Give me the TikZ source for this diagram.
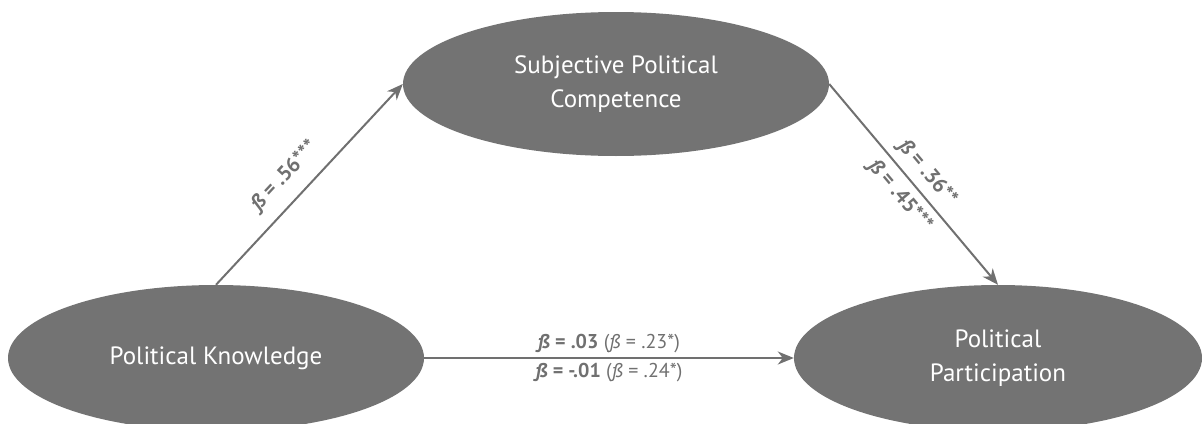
\documentclass[tikz,border=0pt]{standalone}
\usepackage{fontspec}
\setmainfont{PT Sans}
\usetikzlibrary{shapes.geometric,arrows.meta}
\definecolor{nodegrey}{HTML}{737373}
\definecolor{linegrey}{HTML}{707070}
\tikzset{
	construct/.style={ellipse, fill=nodegrey, text=white, inner sep=0pt, align=center, font=\fontsize{25}{34}\selectfont},
	effect/.style={draw=linegrey, line width=2pt, -{Stealth[length=16pt,width=13pt,inset=5pt]}},
	coef/.style={text=linegrey, font=\fontsize{20}{24}\selectfont, inner sep=4pt}
}
\begin{document}
\begin{tikzpicture}[x=1pt,y=-1pt]
	\useasboundingbox (0,0) rectangle (1202,423);
	\node (know) [construct, minimum width=416pt, minimum height=146pt] at (216,358) {Political Knowledge};
	\node (comp) [construct, minimum width=426pt, minimum height=144pt] at (616,84) {Subjective Political\\Competence};
	\node (part) [construct, minimum width=408pt, minimum height=146pt] at (998,358) {Political\\Participation};
	\draw [effect] (know.north) -- node [coef, pos=0.46, sloped, above, inner sep=13pt, font=\fontsize{21}{24}\selectfont] {\textbf{\textit{ß} = .56***}} (comp.west);
	\draw [effect] (comp.east) -- node [coef, pos=0.5, sloped, above, inner sep=7pt, font=\fontsize{21}{24}\selectfont] {\textbf{\textit{ß} = .36**}}
		node [coef, pos=0.5, sloped, below, inner sep=7pt, font=\fontsize{21}{24}\selectfont] {\textbf{\textit{ß} = .45***}} (part.north);
	\draw [effect] (know.east) -- node [coef, midway, above] {\textbf{\textit{ß} = .03} (\textit{ß} = .23*)}
		node [coef, midway, below] {\textbf{\textit{ß} = -.01} (\textit{ß} = .24*)} (part.west);
\end{tikzpicture}
\end{document}
